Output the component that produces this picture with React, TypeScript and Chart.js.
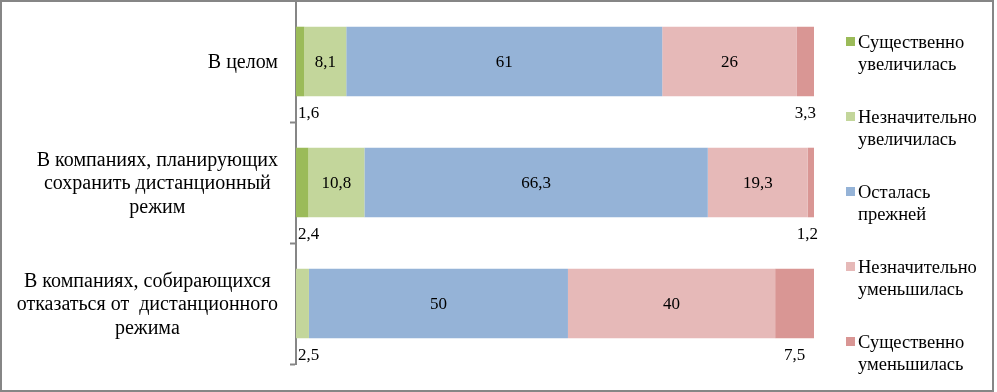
import React, { useEffect, useRef } from "react";
import { Chart, registerables } from "chart.js";

Chart.register(...registerables);

const categories: string[][] = [
  ["В целом"],
  ["В компаниях, планирующих", "сохранить дистанционный", "режим"],
  ["В компаниях, собирающихся", "отказаться от  дистанционного", "режима"],
];
const seriesNames = [
  "Существенно увеличилась",
  "Незначительно увеличилась",
  "Осталась прежней",
  "Незначительно уменьшилась",
  "Существенно уменьшилась",
];
const strongUp = [1.6, 2.4, 0];
const slightUp = [8.1, 10.8, 2.5];
const unchanged = [61, 66.3, 50];
const slightDown = [26, 19.3, 40];
const strongDown = [3.3, 1.2, 7.5];
const seriesColors = ["#9BBB59", "#C3D69B", "#95B3D7", "#E6B9B8", "#D99694"];

const SERIF = '"Liberation Serif", "Times New Roman", serif';
const CAT_FONT = "20px " + SERIF;
const VAL_FONT = "17px " + SERIF;
const LEG_FONT = "18.5px " + SERIF;
const AXIS = "#868686";

const framePlugin = {
  id: "frame",
  beforeDraw(chart: any) {
    const { ctx, width, height } = chart;
    ctx.save();
    ctx.fillStyle = "#ffffff";
    ctx.fillRect(0, 0, width, height);
    ctx.restore();
  },
  afterDraw(chart: any) {
    const { ctx, width, height } = chart;
    ctx.save();
    ctx.strokeStyle = AXIS;
    ctx.lineWidth = 2;
    ctx.strokeRect(1, 1, width - 5, height - 2);
    ctx.restore();
  },
};

const categoryLabelPlugin = {
  id: "catLabels",
  afterDraw(chart: any) {
    const { ctx } = chart;
    const scale = chart.scales.y;
    const labels: string[][] = scale.getLabels();
    const right = chart.chartArea.left - 18;
    const lh = 23.5;
    ctx.save();
    ctx.font = CAT_FONT;
    ctx.fillStyle = "#000";
    ctx.textAlign = "center";
    ctx.textBaseline = "middle";
    labels.forEach((lines, i) => {
      const yc = scale.getPixelForValue(i) + 1.5;
      const w = Math.max(...lines.map((l) => ctx.measureText(l).width));
      const cx = right - w / 2;
      lines.forEach((l, k) => {
        ctx.fillText(l, cx, yc + (k - (lines.length - 1) / 2) * lh);
      });
    });
    ctx.restore();
  },
};

const valueLabelPlugin = {
  id: "valLabels",
  afterDatasetsDraw(chart: any) {
    const { ctx, chartArea } = chart;
    ctx.save();
    ctx.font = VAL_FONT;
    ctx.fillStyle = "#000";
    ctx.textAlign = "center";
    ctx.textBaseline = "middle";
    chart.data.datasets.forEach((ds: any, di: number) => {
      const meta = chart.getDatasetMeta(di);
      meta.data.forEach((el: any, j: number) => {
        const v = ds.data[j];
        if (!v) return;
        const txt = String(v).replace(".", ",");
        const cx = (el.x + el.base) / 2;
        if (v >= 8) {
          ctx.fillText(txt, cx, el.y + 1);
        } else {
          const w = ctx.measureText(txt).width;
          let x = cx;
          if (x - w / 2 < chartArea.left + 2) x = chartArea.left + 2 + w / 2;
          if (x + w / 2 > chartArea.right + 4) x = chartArea.right + 4 - w / 2;
          ctx.fillText(txt, x, el.y + el.height / 2 + 17);
        }
      });
    });
    ctx.restore();
  },
};

const legendPlugin = {
  id: "customLegend",
  afterDraw(chart: any) {
    const { ctx, chartArea } = chart;
    const bx = chartArea.right + 32;
    const top = 37;
    const step = 75;
    ctx.save();
    ctx.font = LEG_FONT;
    ctx.textAlign = "left";
    ctx.textBaseline = "middle";
    chart.data.datasets.forEach((ds: any, i: number) => {
      const y = top + i * step;
      ctx.fillStyle = ds.backgroundColor;
      ctx.fillRect(bx, y, 9, 9);
      ctx.fillStyle = "#000";
      const words = String(ds.label).split(" ");
      words.forEach((w, k) => {
        ctx.fillText(w, bx + 12, y + 6 + k * 22);
      });
    });
    ctx.restore();
  },
};

export default function App() {
  const ref = useRef<HTMLCanvasElement | null>(null);
  useEffect(() => {
    if (!ref.current) return;
    const seriesData = [strongUp, slightUp, unchanged, slightDown, strongDown];
    const chart = new Chart(ref.current, {
      type: "bar",
      data: {
        labels: categories as any,
        datasets: seriesNames.map((name, i) => ({
          label: name,
          data: seriesData[i],
          backgroundColor: seriesColors[i],
          borderWidth: 0,
          categoryPercentage: 1,
          barPercentage: 0.575,
        })),
      },
      options: {
        indexAxis: "y",
        responsive: false,
        animation: false,
        events: [],
        layout: { padding: { top: 1, bottom: 28, left: 0, right: 183 } },
        plugins: { legend: { display: false }, tooltip: { enabled: false } },
        scales: {
          x: { display: false, stacked: true, min: 0, max: 100 },
          y: {
            stacked: true,
            afterFit: (s: any) => {
              s.width = 296;
            },
            ticks: { display: false },
            grid: {
              display: true,
              drawOnChartArea: false,
              drawTicks: true,
              tickLength: 6,
              tickColor: (c: any) => (c.index === 0 ? "rgba(0,0,0,0)" : AXIS),
              tickWidth: 2,
              offset: true,
            },
            border: { display: true, color: AXIS, width: 2 },
          },
        },
      },
      plugins: [framePlugin, categoryLabelPlugin, valueLabelPlugin, legendPlugin],
    });
    return () => chart.destroy();
  }, []);
  return (
    <div style={{ position: "absolute", left: 0, top: 0, width: 997, height: 392 }}>
      <canvas ref={ref} width={997} height={392} style={{ display: "block" }} />
    </div>
  );
}
